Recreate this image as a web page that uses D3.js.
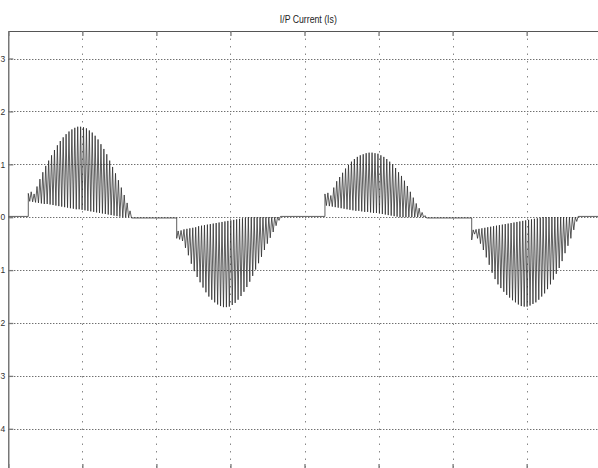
<!DOCTYPE html>
<html><head><meta charset="utf-8">
<script src="https://cdn.jsdelivr.net/npm/d3@7"></script>
<style>html,body{margin:0;padding:0;background:#fff;overflow:hidden}svg{display:block}</style>
</head><body><svg id="c" width="598" height="468"></svg>
<script>
// ---------------- data ----------------
const chartTitle = "I/P Current (Is)";
const xDomain = [0, 0.04];
const yDomain = [-4.76, 3.52];
const xTicks = [0, 0.005, 0.01, 0.015, 0.02, 0.025, 0.03, 0.035, 0.04];
const yTicks = [-4, -3, -2, -1, 0, 1, 2, 3];
// conduction intervals of each half-cycle (s)
const humpStart = [0.00135, 0.01137, 0.02138, 0.03129];
const humpEnd   = [0.00822, 0.01828, 0.02814, 0.03838];
// level of the trace between the half-cycles
const restLevel = [0.015, -0.015, 0.015, -0.015, 0.015];
// switching-ripple peaks and troughs, per half-cycle
const h1Peaks = [0.45,0.48,0.44,0.58,0.72,0.85,0.97,1.07,1.17,1.27,1.36,1.44,1.51,1.57,1.62,1.66,1.69,1.71,1.71,1.70,1.68,1.64,1.60,1.54,1.47,1.38,1.29,1.19,1.07,0.95,0.83,0.70,0.56,0.42,0.27,0.12];
const h1Troughs = [0.30,0.29,0.28,0.27,0.26,0.25,0.25,0.24,0.23,0.22,0.21,0.20,0.19,0.18,0.17,0.16,0.15,0.15,0.14,0.13,0.12,0.11,0.10,0.09,0.08,0.07,0.06,0.05,0.04,0.03,0.02,0.01,0.00,0.00,0.00];
const h2Peaks = [-0.40,-0.42,-0.45,-0.58,-0.72,-0.88,-1.02,-1.13,-1.23,-1.33,-1.42,-1.50,-1.56,-1.61,-1.65,-1.68,-1.70,-1.70,-1.69,-1.66,-1.62,-1.56,-1.49,-1.41,-1.32,-1.22,-1.11,-0.99,-0.87,-0.75,-0.62,-0.50,-0.39,-0.28,-0.16,-0.06];
const h2Troughs = [-0.26,-0.25,-0.23,-0.22,-0.21,-0.20,-0.19,-0.17,-0.16,-0.15,-0.14,-0.13,-0.12,-0.11,-0.10,-0.09,-0.08,-0.07,-0.06,-0.05,-0.04,-0.03,-0.02,-0.01,0,0,0,0,0,0,0,0,0,0,0];
const h3Peaks = [0.44,0.46,0.41,0.56,0.68,0.76,0.84,0.92,0.99,1.05,1.10,1.14,1.17,1.19,1.21,1.22,1.22,1.21,1.20,1.17,1.14,1.10,1.05,1.00,0.93,0.85,0.78,0.69,0.59,0.48,0.37,0.26,0.17,0.09,0.03];
const h3Troughs = [0.22,0.21,0.20,0.19,0.18,0.17,0.16,0.15,0.14,0.13,0.12,0.12,0.11,0.10,0.10,0.09,0.08,0.08,0.07,0.06,0.05,0.04,0.03,0.02,0.01,0,0,0,0,0,0,0,0,0];
const h4Peaks = [-0.43,-0.32,-0.40,-0.50,-0.62,-0.76,-0.90,-1.05,-1.17,-1.27,-1.34,-1.41,-1.47,-1.52,-1.57,-1.61,-1.65,-1.68,-1.69,-1.69,-1.67,-1.64,-1.61,-1.56,-1.50,-1.44,-1.36,-1.27,-1.18,-1.07,-0.96,-0.83,-0.68,-0.54,-0.40,-0.24,-0.08];
const h4Troughs = [-0.24,-0.23,-0.22,-0.21,-0.20,-0.19,-0.18,-0.17,-0.16,-0.15,-0.14,-0.13,-0.12,-0.11,-0.10,-0.09,-0.08,-0.07,-0.06,-0.05,-0.04,-0.03,-0.02,-0.01,0,0,0,0,0,0,0,0,0,0,0,0];

// ---------------- layout ----------------
const L = 8.3, R = 600.7, T = 31, B = 469;
const svg = d3.select("#c");
svg.append("rect").attr("width", 598).attr("height", 468).attr("fill", "#fff");

const x = d3.scaleLinear().domain(xDomain).range([L, R]);
const y = d3.scaleLinear().domain(yDomain).range([B, T]);

// grid
const grid = svg.append("g");
grid.selectAll("line.hg").data(yTicks).join("line")
  .attr("x1", L).attr("x2", R)
  .attr("y1", d => Math.round(y(d)) + 0.5).attr("y2", d => Math.round(y(d)) + 0.5)
  .attr("stroke", "#333").attr("stroke-width", 1).attr("stroke-dasharray", "1,2");
grid.selectAll("line.vg").data(xTicks.slice(1, -1)).join("line")
  .attr("x1", d => Math.round(x(d)) + 0.5).attr("x2", d => Math.round(x(d)) + 0.5)
  .attr("y1", T).attr("y2", B)
  .attr("stroke", "#888").attr("stroke-width", 1).attr("stroke-dasharray", "1.5,6");

// waveform
const hPeaks = [h1Peaks, h2Peaks, h3Peaks, h4Peaks];
const hTroughs = [h1Troughs, h2Troughs, h3Troughs, h4Troughs];
const pts = [[xDomain[0], restLevel[0]]];
humpStart.forEach((s, k) => {
  const e = humpEnd[k], pk = hPeaks[k], tr = hTroughs[k];
  const step = (e - s) / (pk.length - 1);
  pts.push([s, restLevel[k]]);
  pk.forEach((v, i) => {
    pts.push([s + i * step, v]);
    if (i < tr.length) pts.push([s + (i + 0.5) * step, tr[i]]);
  });
  pts.push([e + step * 0.5, restLevel[k + 1]]);
});
pts.push([xDomain[1], restLevel[restLevel.length - 1]]);

svg.append("clipPath").attr("id", "clip").append("rect")
  .attr("x", L).attr("y", T).attr("width", R - L).attr("height", B - T);
svg.append("path").datum(pts)
  .attr("clip-path", "url(#clip)")
  .attr("fill", "none").attr("stroke", "#2a2a2a").attr("stroke-width", 0.75)
  .attr("d", d3.line().x(d => x(d[0])).y(d => y(d[1])));

// axes (MATLAB-style inward ticks)
const axL = svg.append("g").attr("transform", `translate(${L},0)`)
  .call(d3.axisLeft(y).tickValues(yTicks).tickSize(-5).tickSizeOuter(0).tickPadding(3).tickFormat(d3.format("d")));
const axT = svg.append("g").attr("transform", `translate(0,${T})`)
  .call(d3.axisTop(x).tickValues(xTicks).tickSize(-5).tickSizeOuter(0).tickFormat(""));
const axB = svg.append("g").attr("transform", `translate(0,${B})`)
  .call(d3.axisBottom(x).tickValues(xTicks).tickSize(-5).tickSizeOuter(0).tickFormat(""));
[axL, axT, axB].forEach(a => {
  a.select(".domain").attr("stroke", "#555").attr("stroke-width", 1.2);
  a.selectAll(".tick line").attr("stroke", "#777").attr("stroke-width", 1.3);
});
axL.selectAll(".tick text")
  .attr("font-family", "'Liberation Sans', Arial, sans-serif").attr("font-size", 8.5).attr("fill", "#333");

// title
svg.append("text").attr("x", 308.3).attr("y", 22.5).attr("text-anchor", "middle")
  .attr("font-family", "'Liberation Sans', Arial, sans-serif").attr("font-size", 10)
  .attr("fill", "#222").attr("textLength", 57).attr("lengthAdjust", "spacingAndGlyphs")
  .text(chartTitle);
</script>
</body></html>
